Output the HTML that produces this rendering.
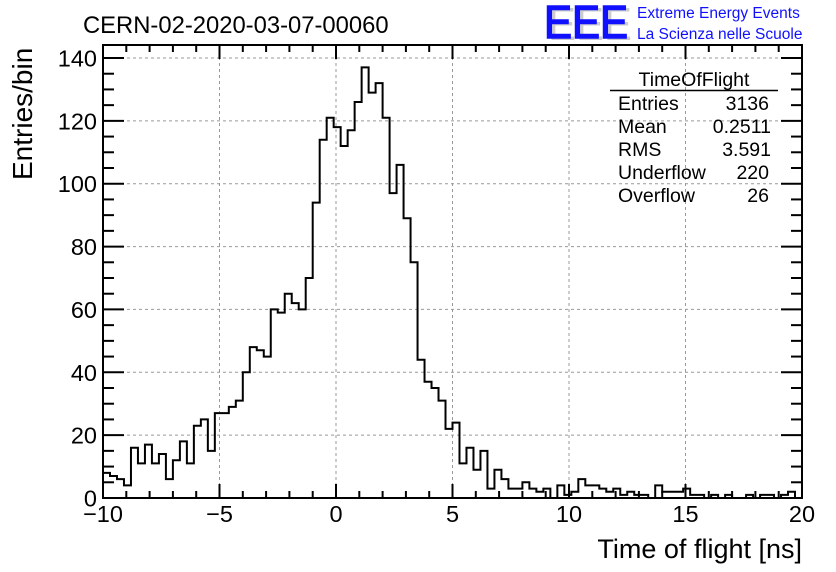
<!DOCTYPE html>
<html><head><meta charset="utf-8"><style>
body{margin:0;background:#fff;}
svg{display:block;font-family:"Liberation Sans",Arial,sans-serif;}
</style></head><body>
<svg id="chart" width="836" height="572" viewBox="0 0 836 572" xmlns="http://www.w3.org/2000/svg">
<rect width="836" height="572" fill="#fff"/>
<g id="grid"></g>
<path id="hist" fill="none" stroke="#000" stroke-width="2"/>
<g id="axes"></g>
<text x="83" y="33" font-size="23.8">CERN-02-2020-03-07-00060</text>
<g>
<text x="548" y="40" font-size="46" fill="#ccc" textLength="84" lengthAdjust="spacingAndGlyphs">EEE</text>
<text x="544" y="38" font-size="46" fill="#1010ff" textLength="84" lengthAdjust="spacingAndGlyphs" stroke="#1010ff" stroke-width="1.5">EEE</text>
<text x="637" y="18" font-size="15.5" fill="#1010ff">Extreme Energy Events</text>
<text x="637" y="39" font-size="15.5" fill="#1010ff">La Scienza nelle Scuole</text>
</g>
<g font-size="19.5">
<text x="694" y="86" text-anchor="middle">TimeOfFlight</text>
<line x1="610" y1="90.5" x2="778" y2="90.5" stroke="#000" stroke-width="1.5"/>
<text x="618" y="110">Entries</text><text x="769" y="110" text-anchor="end">3136</text>
<text x="618" y="133">Mean</text><text x="771" y="133" text-anchor="end">0.2511</text>
<text x="618" y="156">RMS</text><text x="771" y="156" text-anchor="end">3.591</text>
<text x="618" y="179">Underflow</text><text x="769" y="179" text-anchor="end">220</text>
<text x="618" y="202">Overflow</text><text x="769" y="202" text-anchor="end">26</text>
</g>
<text x="802" y="558" font-size="27" text-anchor="end">Time of flight [ns]</text>
<text transform="translate(32,180) rotate(-90)" font-size="28">Entries/bin</text>
</svg>
<script>
const binEdgesStart = -10;
const binWidth = 0.3;
const counts = [8,7,6,4,16,11,17,11,14,6,12,18,11,23,25,15,27,27,29,31,40,48,47,45,60,59,65,62,60,
70,94,114,121,118,112,117,126,137,129,132,121,97,106,89,75,44,37,35,31,22,24,11,16,
9,15,3,9,6,3,3,5,3,2,3,0,4,1,2,6,4,4,3,2,3,
1,2,1,1,0,4,2,2,2,3,1,1,0,1,0,1,0,0,1,0,1,1,0,1,2,0];
const xTicks = [-10,-5,0,5,10,15,20];
const yTicks = [0,20,40,60,80,100,120,140];

const L=103,R=802,T=45,B=498;
const xMin=-10,xMax=20,yMax=140;
const X=v=>L+(v-xMin)/(xMax-xMin)*(R-L);
const Y=v=>498-v*(498-58)/yMax;
const NS='http://www.w3.org/2000/svg';
function mk(tag,attrs,parent){const e=document.createElementNS(NS,tag);for(const k in attrs)e.setAttribute(k,attrs[k]);parent.appendChild(e);return e;}
const grid=document.getElementById('grid'),axes=document.getElementById('axes');
xTicks.forEach(t=>{if(t>xMin&&t<xMax){const l=mk('line',{x1:X(t),x2:X(t),y1:T,y2:B,stroke:'#999','stroke-dasharray':'3,3','stroke-width':1},grid);

}});
yTicks.forEach(t=>{if(t>0){const l=mk('line',{x1:L,x2:R,y1:Y(t),y2:Y(t),stroke:'#999','stroke-dasharray':'3,3','stroke-width':1},grid);

}});
let d='M'+X(binEdgesStart)+','+Y(0);
counts.forEach((c,i)=>{const x0=X(binEdgesStart+i*binWidth),x1=X(binEdgesStart+(i+1)*binWidth);d+=' L'+x0+','+Y(c)+' L'+x1+','+Y(c);});
d+=' L'+X(binEdgesStart+counts.length*binWidth)+','+Y(0);
document.getElementById('hist').setAttribute('d',d);
const fr=mk('rect',{x:L,y:T,width:R-L,height:B-T,fill:'none',stroke:'#000','stroke-width':2},axes);


for(let v=xMin;v<=xMax;v++){const maj=(v%5===0);const len=maj?14:7;
mk('line',{x1:X(v),x2:X(v),y1:B,y2:B-len,stroke:'#000','stroke-width':2},axes);
mk('line',{x1:X(v),x2:X(v),y1:T,y2:T+len,stroke:'#000','stroke-width':2},axes);}
xTicks.forEach(t=>{const tx=mk('text',{x:X(t),y:522,'font-size':23.5,'text-anchor':'middle'},axes);tx.textContent=(t<0?'\u2212'+(-t):t);

});
for(let v=0;v<=yMax;v+=5){const maj=(v%20===0);const len=maj?21:11;
mk('line',{x1:L,x2:L+len,y1:Y(v),y2:Y(v),stroke:'#000','stroke-width':2},axes);
mk('line',{x1:R,x2:R-len,y1:Y(v),y2:Y(v),stroke:'#000','stroke-width':2},axes);}
yTicks.forEach(t=>{const tx=mk('text',{x:97,y:Y(t)+8.5,'font-size':23.5,'text-anchor':'end'},axes);tx.textContent=t;

});
</script>
</body></html>
